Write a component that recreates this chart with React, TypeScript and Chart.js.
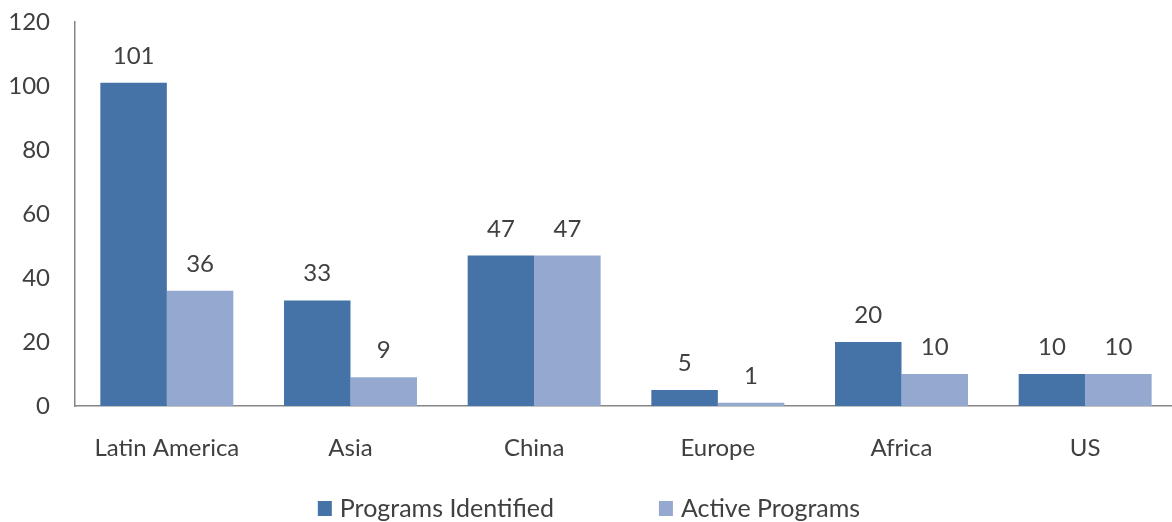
import React, { useEffect, useRef } from "react";
import { Chart, registerables } from "chart.js";

Chart.register(...registerables);

const categories = ["Latin America", "Asia", "China", "Europe", "Africa", "US"];
const programsIdentified = [101, 33, 47, 5, 20, 10];
const activePrograms = [36, 9, 47, 1, 10, 10];
const yTicks = [0, 20, 40, 60, 80, 100, 120];

const FONT = "Lato";
const TEXT = "#404040";
const DARK = "#4572A7";
const LIGHT = "#95A9D0";
const FS = 24;

export default function App() {
  const ref = useRef<HTMLCanvasElement | null>(null);
  useEffect(() => {
    document.body.style.margin = "0";
    const canvas = ref.current!;
    const extendRight = {
      id: "extendRight",
      afterLayout(chart: any) {
        const s = chart.scales.x;
        s.right += 5;
        s.width += 5;
        s.configure();
        chart.chartArea.right += 5;
        chart.chartArea.width += 5;
      },
    };
    const dataLabels = {
      id: "dataLabels",
      afterDatasetsDraw(chart: any) {
        const ctx = chart.ctx;
        ctx.save();
        ctx.font = `${FS}px ${FONT}`;
        ctx.fillStyle = TEXT;
        ctx.textAlign = "center";
        ctx.textBaseline = "alphabetic";
        chart.data.datasets.forEach((ds: any, i: number) => {
          const meta = chart.getDatasetMeta(i);
          meta.data.forEach((el: any, j: number) => {
            ctx.fillText(String(ds.data[j]), el.x, el.y - 19);
          });
        });
        ctx.restore();
      },
    };
    const customLegend = {
      id: "customLegend",
      afterDraw(chart: any) {
        const ctx = chart.ctx;
        ctx.save();
        ctx.font = `25px ${FONT}`;
        ctx.textBaseline = "alphabetic";
        ctx.textAlign = "left";
        const items = chart.data.datasets.map((ds: any) => ({
          label: ds.label,
          color: ds.backgroundColor,
          w: ctx.measureText(ds.label).width,
        }));
        const box = 14;
        const gapText = 8;
        const gapItems = 105;
        let total = 0;
        items.forEach((it: any, i: number) => {
          total += box + gapText + it.w + (i < items.length - 1 ? gapItems : 0);
        });
        let x = 589 - total / 2;
        const baseline = 517;
        items.forEach((it: any) => {
          ctx.fillStyle = it.color;
          ctx.fillRect(x, 501, box, 15);
          x += box + gapText;
          ctx.fillStyle = TEXT;
          ctx.fillText(it.label, x, baseline);
          x += it.w + gapItems;
        });
        ctx.restore();
      },
    };
    const chart = new Chart(canvas, {
      type: "bar",
      data: {
        labels: categories,
        datasets: [
          {
            label: "Programs Identified",
            data: programsIdentified,
            backgroundColor: DARK,
            categoryPercentage: 0.724,
            barPercentage: 1,
          },
          {
            label: "Active Programs",
            data: activePrograms,
            backgroundColor: LIGHT,
            categoryPercentage: 0.724,
            barPercentage: 1,
          },
        ],
      },
      options: {
        animation: false,
        responsive: false,
        layout: { padding: { top: 22, left: 0, right: 0, bottom: 0 } },
        plugins: {
          legend: { display: false },
          tooltip: { enabled: false },
          title: { display: false },
        },
        scales: {
          x: {
            grid: { display: false, drawTicks: false },
            border: { display: true, color: "#868686", width: 1.5 },
            ticks: {
              padding: 28,
              color: TEXT,
              font: { family: FONT, size: FS },
              maxRotation: 0,
            },
            afterFit(scale: any) {
              scale.height = 116;
              scale.paddingLeft = 0;
              scale.paddingRight = 0;
            },
          },
          y: {
            min: 0,
            max: 120,
            afterBuildTicks(scale: any) {
              scale.ticks = yTicks.map((v) => ({ value: v }));
            },
            grid: { display: false, drawTicks: false },
            border: { display: true, color: "#868686", width: 1.5 },
            ticks: {
              padding: 25,
              color: TEXT,
              font: { family: FONT, size: FS },
            },
            afterFit(scale: any) {
              scale.width = 75;
              scale.paddingTop = 0;
              scale.paddingBottom = 0;
            },
          },
        },
      },
      plugins: [extendRight, dataLabels, customLegend],
    });
    return () => chart.destroy();
  }, []);
  return (
    <div style={{ width: 1172, height: 522 }}>
      <canvas ref={ref} width={1172} height={522} />
    </div>
  );
}
